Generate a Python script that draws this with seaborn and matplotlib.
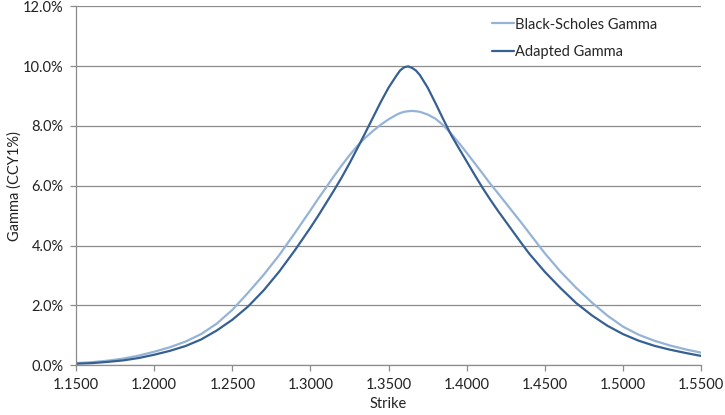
import seaborn as sns
import matplotlib.pyplot as plt
import matplotlib.ticker as mtick
import pandas as pd

# strike grid (finer around the peak)
strike = [1.15, 1.16, 1.17, 1.18, 1.19, 1.20, 1.21, 1.22, 1.23, 1.24,
          1.25, 1.26, 1.27, 1.28, 1.29, 1.30, 1.305, 1.31, 1.315, 1.32,
          1.325, 1.33, 1.335, 1.34, 1.345, 1.35, 1.355, 1.3575, 1.36, 1.3625,
          1.365, 1.3675, 1.37,
          1.375, 1.38, 1.385, 1.39, 1.395, 1.40, 1.405, 1.41, 1.415, 1.42,
          1.425, 1.43, 1.435, 1.44, 1.45, 1.46, 1.47, 1.48, 1.49, 1.50,
          1.51, 1.52, 1.53, 1.54, 1.55]

# gamma values in %
bs_gamma = [0.07, 0.10, 0.15, 0.22, 0.32, 0.45, 0.60, 0.79, 1.04, 1.39,
            1.85, 2.42, 3.02, 3.68, 4.42, 5.18, 5.57, 5.94, 6.32, 6.68,
            7.02, 7.33, 7.60, 7.83, 8.04, 8.22, 8.37, 8.43, 8.47, 8.49,
            8.50, 8.49, 8.47,
            8.38, 8.24, 8.02, 7.74, 7.43, 7.10, 6.76, 6.42, 6.07, 5.75,
            5.42, 5.09, 4.76, 4.42, 3.74, 3.13, 2.59, 2.10, 1.66, 1.29,
            1.02, 0.82, 0.66, 0.53, 0.42]

adapted_gamma = [0.05, 0.07, 0.11, 0.16, 0.24, 0.35, 0.48, 0.64, 0.86, 1.16,
                 1.52, 1.96, 2.50, 3.13, 3.84, 4.60, 5.00, 5.42, 5.84, 6.28,
                 6.75, 7.25, 7.76, 8.28, 8.80, 9.28, 9.68, 9.86, 9.96, 9.99,
                 9.94, 9.85, 9.70,
                 9.28, 8.76, 8.22, 7.70, 7.25, 6.81, 6.37, 5.94, 5.54, 5.16,
                 4.80, 4.44, 4.08, 3.73, 3.12, 2.58, 2.08, 1.67, 1.32, 1.04,
                 0.82, 0.65, 0.52, 0.41, 0.31]

series_names = ["Black-Scholes Gamma", "Adapted Gamma"]
colors = {"Black-Scholes Gamma": "#95b3d7", "Adapted Gamma": "#376092"}

df = pd.concat([
    pd.DataFrame({"Strike": strike, "Gamma": bs_gamma, "Series": series_names[0]}),
    pd.DataFrame({"Strike": strike, "Gamma": adapted_gamma, "Series": series_names[1]}),
])
df["Gamma"] = df["Gamma"] / 100

sns.set_style("white")
plt.rcParams["font.family"] = ["Lato", "DejaVu Sans"]

fig = plt.figure(figsize=(7.25, 4.15), dpi=100)
ax = fig.add_axes([0.105, 0.12, 0.862, 0.865])

sns.lineplot(data=df, x="Strike", y="Gamma", hue="Series", hue_order=series_names,
             palette=colors, linewidth=1.6, ax=ax)

ax.set_xlim(1.15, 1.55)
ax.set_ylim(0, 0.12)
ax.set_xticks([1.15 + 0.05 * i for i in range(9)])
ax.xaxis.set_major_formatter(mtick.FormatStrFormatter("%.4f"))
ax.set_yticks([0.02 * i for i in range(7)])
ax.yaxis.set_major_formatter(mtick.PercentFormatter(1.0, decimals=1))

ax.grid(axis="y", color="#8c8c8c", linewidth=0.9)
ax.set_axisbelow(True)
for side in ["top", "right"]:
    ax.spines[side].set_visible(False)
for side in ["left", "bottom"]:
    ax.spines[side].set_color("#8c8c8c")
    ax.spines[side].set_linewidth(0.9)
ax.tick_params(axis="both", which="major", direction="out", length=4, width=0.9,
               color="#8c8c8c", labelsize=10.5, labelcolor="#222222", pad=5)
ax.tick_params(axis="x", bottom=True)
ax.tick_params(axis="y", left=True)

ax.set_xlabel("Strike", fontsize=10.5, color="#222222", labelpad=4)
ax.set_ylabel("Gamma (CCY1%)", fontsize=10.5, color="#222222", labelpad=1)

ax.legend(title=None, loc="upper left", bbox_to_anchor=(0.645, 1.005), frameon=False,
          fontsize=10.5, handlelength=1.5, handletextpad=0.05, labelspacing=0.9)

fig.savefig("out.png", dpi=100)
